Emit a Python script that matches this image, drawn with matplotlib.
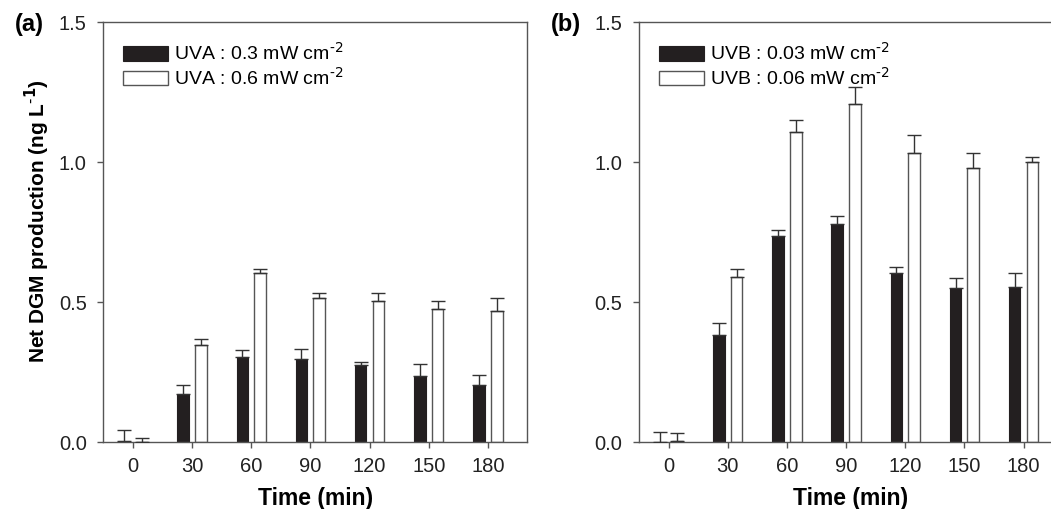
import matplotlib
matplotlib.use("Agg")
import matplotlib.pyplot as plt
import numpy as np

plt.rcParams['font.family'] = ['Liberation Sans', 'DejaVu Sans']

times = [0, 30, 60, 90, 120, 150, 180]
time_labels = ['0', '30', '60', '90', '120', '150', '180']

uva_low = [0.005, 0.174, 0.305, 0.299, 0.275, 0.236, 0.206]
uva_low_err = [0.040, 0.030, 0.023, 0.033, 0.011, 0.043, 0.035]
uva_high = [0.002, 0.346, 0.604, 0.515, 0.506, 0.477, 0.469]
uva_high_err = [0.012, 0.024, 0.015, 0.019, 0.028, 0.028, 0.046]

uvb_low = [0.002, 0.382, 0.737, 0.779, 0.604, 0.552, 0.555]
uvb_low_err = [0.034, 0.043, 0.020, 0.031, 0.023, 0.035, 0.051]
uvb_high = [0.005, 0.590, 1.110, 1.210, 1.035, 0.980, 1.000]
uvb_high_err = [0.028, 0.030, 0.042, 0.060, 0.064, 0.054, 0.020]

labels_a = [r'UVA : 0.3 mW cm$^{\text{-}2}$', r'UVA : 0.6 mW cm$^{\text{-}2}$']
labels_b = [r'UVB : 0.03 mW cm$^{\text{-}2}$', r'UVB : 0.06 mW cm$^{\text{-}2}$']

yticks = [0.0, 0.5, 1.0, 1.5]

DARK = '#231f20'
EDGE = '#555555'
SPINE = '#555555'

fig = plt.figure(figsize=(10.51, 5.09), dpi=100)
ax_a = fig.add_axes([0.0983, 0.131, 0.4034, 0.825])
ax_b = fig.add_axes([0.608, 0.131, 0.4034, 0.825])

t = np.array(times, dtype=float)
off = 4.5
w = 5.9

def draw(ax, low, low_err, high, high_err, labels, tag):
    ax.bar(t - off, low, width=w, color=DARK, edgecolor=DARK, linewidth=0.8, label=labels[0], zorder=2)
    ax.bar(t + off, high, width=w, color='white', edgecolor=EDGE, linewidth=1.0, label=labels[1], zorder=2)
    ax.errorbar(t - off, low, yerr=[np.zeros(len(low)), low_err], fmt='none',
                ecolor='#333333', elinewidth=1.0, capsize=5, capthick=1.0, zorder=3)
    ax.errorbar(t + off, high, yerr=[np.zeros(len(high)), high_err], fmt='none',
                ecolor='#333333', elinewidth=1.0, capsize=5, capthick=1.0, zorder=3)
    ax.set_xlim(-15, 200)
    ax.set_ylim(0, 1.5)
    ax.set_xticks(times)
    ax.set_xticklabels(time_labels)
    ax.set_yticks(yticks)
    ax.set_yticklabels(['%.1f' % v for v in yticks])
    for s in ax.spines.values():
        s.set_color(SPINE)
        s.set_linewidth(1.0)
    ax.tick_params(direction='out', length=4.5, width=1.0, color=SPINE,
                   labelsize=14.5, labelcolor='#222222')
    ax.tick_params(axis='x', pad=6)
    ax.tick_params(axis='y', pad=7.5)
    ax.set_xlabel('Time (min)', fontsize=16.5, fontweight='bold', labelpad=8)
    ax.legend(loc='upper left', bbox_to_anchor=(0.015, 0.985), frameon=False,
              fontsize=14, handlelength=2.3, handleheight=0.75, handletextpad=0.3,
              labelspacing=0.15, borderaxespad=0.3)
    ax.text(-0.208, 0.995, tag, transform=ax.transAxes, fontsize=17, fontweight='bold',
            ha='left', va='center')

draw(ax_a, uva_low, uva_low_err, uva_high, uva_high_err, labels_a, '(a)')
draw(ax_b, uvb_low, uvb_low_err, uvb_high, uvb_high_err, labels_b, '(b)')

ax_a.set_ylabel(r'Net DGM production (ng L$^{\text{-}\mathbf{1}}$)', fontsize=15,
                fontweight='bold')
ax_a.yaxis.set_label_coords(-0.12, 0.528)

fig.savefig('out.png', dpi=100)
